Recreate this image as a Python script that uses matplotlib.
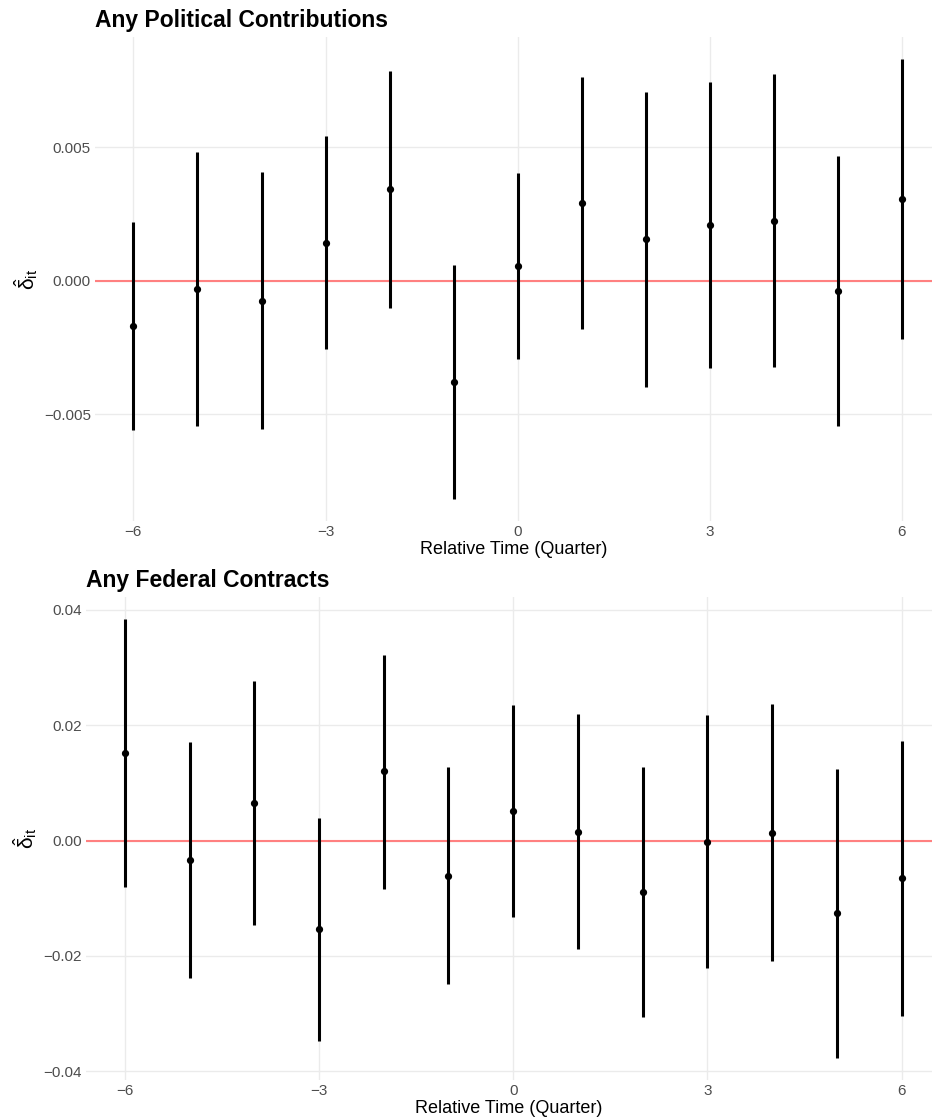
import numpy as np
import matplotlib
matplotlib.use("Agg")
import matplotlib.pyplot as plt

plt.rcParams['font.family'] = ['Liberation Sans', 'DejaVu Sans']
plt.rcParams['mathtext.fontset'] = 'custom'
plt.rcParams['mathtext.rm'] = 'Liberation Sans'
plt.rcParams['mathtext.it'] = 'Liberation Sans:italic'

rel_time = [-6, -5, -4, -3, -2, -1, 0, 1, 2, 3, 4, 5, 6]

# Panel 1: Any Political Contributions
pol_est = [-0.00170, -0.00032, -0.00076, 0.00142, 0.00343, -0.00380, 0.00054,
           0.00290, 0.00155, 0.00209, 0.00225, -0.00039, 0.00305]
pol_hi = [0.00219, 0.00480, 0.00406, 0.00540, 0.00786, 0.00058, 0.00403,
          0.00761, 0.00706, 0.00743, 0.00773, 0.00465, 0.00830]
pol_lo = [-0.00560, -0.00544, -0.00556, -0.00257, -0.00101, -0.00818, -0.00295,
          -0.00182, -0.00398, -0.00327, -0.00324, -0.00545, -0.00219]

# Panel 2: Any Federal Contracts
fed_est = [0.01516, -0.00335, 0.00649, -0.01532, 0.01197, -0.00607, 0.00515,
           0.00151, -0.00890, -0.00023, 0.00128, -0.01254, -0.00647]
fed_hi = [0.03840, 0.01707, 0.02770, 0.00399, 0.03221, 0.01266, 0.02349,
          0.02193, 0.01273, 0.02175, 0.02366, 0.01244, 0.01729]
fed_lo = [-0.00808, -0.02376, -0.01462, -0.03469, -0.00833, -0.02480, -0.01323,
          -0.01879, -0.03058, -0.02208, -0.02087, -0.03769, -0.03041]

pol_yticks = [-0.005, 0.0, 0.005]
pol_yticklabels = ["\u22120.005", "0.000", "0.005"]
fed_yticks = [-0.04, -0.02, 0.0, 0.02, 0.04]
fed_yticklabels = ["\u22120.04", "\u22120.02", "0.00", "0.02", "0.04"]
xticks = [-6, -3, 0, 3, 6]
xticklabels = ["\u22126", "\u22123", "0", "3", "6"]

titles = ["Any Political Contributions", "Any Federal Contracts"]
xlabel = "Relative Time (Quarter)"
ylabel = r"$\hat{\mathrm{\delta}}_{\mathrm{it}}$"

W, H = 932, 1120
fig = plt.figure(figsize=(W / 100, H / 100), dpi=100)

def px_axes(left, top, right, bottom):
    return fig.add_axes([left / W, 1 - bottom / H, (right - left) / W, (bottom - top) / H])

ax1 = px_axes(95, 37, 932, 521)
ax2 = px_axes(86, 597, 932, 1080)

grid_col = '#EBEBEB'
panels = [
    (ax1, pol_est, pol_lo, pol_hi, pol_yticks, pol_yticklabels, titles[0]),
    (ax2, fed_est, fed_lo, fed_hi, fed_yticks, fed_yticklabels, titles[1]),
]
for ax, est, lo, hi, yt, ytl, title in panels:
    for s in ax.spines.values():
        s.set_visible(False)
    ax.set_axisbelow(True)
    ax.grid(True, color=grid_col, linewidth=1.0)
    ax.axhline(0, color=(1.0, 0.5, 0.5), linewidth=1.5, zorder=2)
    ax.vlines(rel_time, lo, hi, color='black', linewidth=2.2, zorder=3)
    ax.plot(rel_time, est, 'o', color='black', markersize=4.2, zorder=4)
    lo_all = min(lo); hi_all = max(hi)
    rng = hi_all - lo_all
    ax.set_ylim(lo_all - 0.05 * rng, hi_all + 0.05 * rng)
    ax.set_xlim(-6.6, 6.47)
    ax.set_xticks(xticks)
    ax.set_xticklabels(xticklabels)
    ax.set_yticks(yt)
    ax.set_yticklabels(ytl)
    ax.tick_params(length=0, labelsize=11, labelcolor='#4D4D4D', pad=3)
    ax.set_xlabel(xlabel, fontsize=13, labelpad=1)
    ax.set_ylabel(ylabel, fontsize=15, labelpad=3)
    ax.set_title(title, loc='left', fontsize=16.5, fontweight='bold', pad=7)

fig.savefig("out.png", dpi=100, facecolor='white')
